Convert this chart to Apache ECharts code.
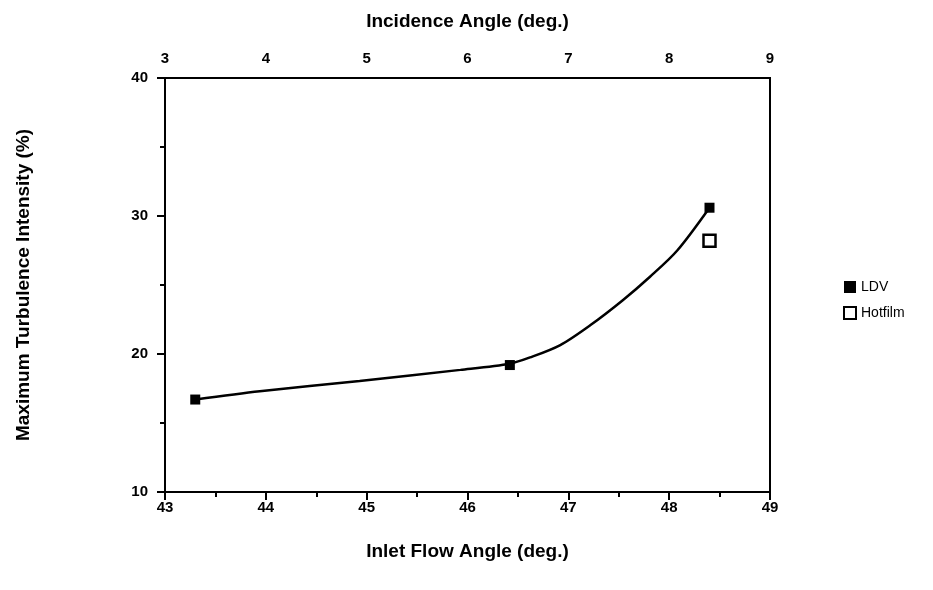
<!DOCTYPE html>
<html>
<head>
<meta charset="utf-8">
<script src="https://cdn.jsdelivr.net/npm/echarts@6/dist/echarts.min.js"></script>
<style>
  html, body { margin: 0; padding: 0; background: #fff; }
  #chart { width: 933px; height: 590px; }
</style>
</head>
<body>
<div id="chart"></div>
<script>
// measured points
var ldvX = [43.3, 46.42, 48.4]
var ldvY = [16.7, 19.2, 30.6]
var hotX = [48.4]
var hotY = [28.2]
// hand-drawn fit curve
var fitX = [43.3, 43.94, 44.93, 45.93, 46.42, 46.62, 46.92, 47.22, 47.54, 47.81, 48.08, 48.4]
var fitY = [16.7, 17.3, 18.05, 18.85, 19.3, 19.75, 20.65, 22.1, 23.9, 25.6, 27.5, 30.6]

function pairs(xs, ys) {
  return xs.map(function (x, i) { return [x, ys[i]] })
}

var font = 'Liberation Sans'
var chart = echarts.init(document.getElementById('chart'))
chart.setOption({
  animation: false,
  textStyle: { fontFamily: font, color: '#000' },
  grid: {
    left: 165, right: 163, top: 78, bottom: 98,
    show: true, borderColor: '#000', borderWidth: 2
  },
  legend: {
    orient: 'vertical',
    left: 838, top: 275,
    itemGap: 12,
    itemWidth: 12, itemHeight: 12,
    textStyle: { fontFamily: font, fontSize: 14, color: '#000' },
    data: ['LDV', 'Hotfilm']
  },
  xAxis: [{
    type: 'value',
    min: 43, max: 49, interval: 1,
    name: 'Inlet Flow Angle (deg.)',
    nameLocation: 'middle',
    nameGap: 50,
    nameTextStyle: { fontFamily: font, fontSize: 19, fontWeight: 'bold', color: '#000' },
    axisLine: { lineStyle: { color: '#000', width: 2 } },
    axisTick: { length: 8, lineStyle: { color: '#000', width: 2 } },
    minorTick: { show: true, splitNumber: 2, length: 5, lineStyle: { color: '#000', width: 2 } },
    axisLabel: { fontSize: 15, fontWeight: 'bold', color: '#000', margin: 8 },
    splitLine: { show: false }
  }, {
    type: 'value',
    position: 'top',
    min: 3, max: 9, interval: 1,
    name: 'Incidence Angle (deg.)',
    nameLocation: 'middle',
    nameGap: 47,
    nameTextStyle: { fontFamily: font, fontSize: 19, fontWeight: 'bold', color: '#000' },
    axisLine: { lineStyle: { color: '#000', width: 2 } },
    axisTick: { show: false },
    axisLabel: { fontSize: 15, fontWeight: 'bold', color: '#000', margin: 12 },
    splitLine: { show: false }
  }],
  yAxis: {
    type: 'value',
    min: 10, max: 40, interval: 10,
    name: 'Maximum Turbulence Intensity (%)',
    nameLocation: 'middle',
    nameGap: 132,
    nameTextStyle: { fontFamily: font, fontSize: 19, fontWeight: 'bold', color: '#000' },
    axisLine: { lineStyle: { color: '#000', width: 2 } },
    axisTick: { length: 8, lineStyle: { color: '#000', width: 2 } },
    minorTick: { show: true, splitNumber: 2, length: 5, lineStyle: { color: '#000', width: 2 } },
    axisLabel: { fontSize: 15, fontWeight: 'bold', color: '#000', margin: 17 },
    splitLine: { show: false }
  },
  series: [{
    name: 'fit',
    type: 'line',
    smooth: 0.3,
    symbol: 'none',
    lineStyle: { color: '#000', width: 2.5 },
    data: pairs(fitX, fitY),
    z: 1
  }, {
    name: 'LDV',
    type: 'scatter',
    symbol: 'rect',
    symbolSize: 10,
    itemStyle: { color: '#000', opacity: 1 },
    data: pairs(ldvX, ldvY),
    z: 3
  }, {
    name: 'Hotfilm',
    type: 'scatter',
    symbol: 'rect',
    symbolSize: 12,
    itemStyle: { color: '#fff', borderColor: '#000', borderWidth: 2.5, opacity: 1 },
    data: pairs(hotX, hotY),
    z: 3
  }]
})
</script>
</body>
</html>
